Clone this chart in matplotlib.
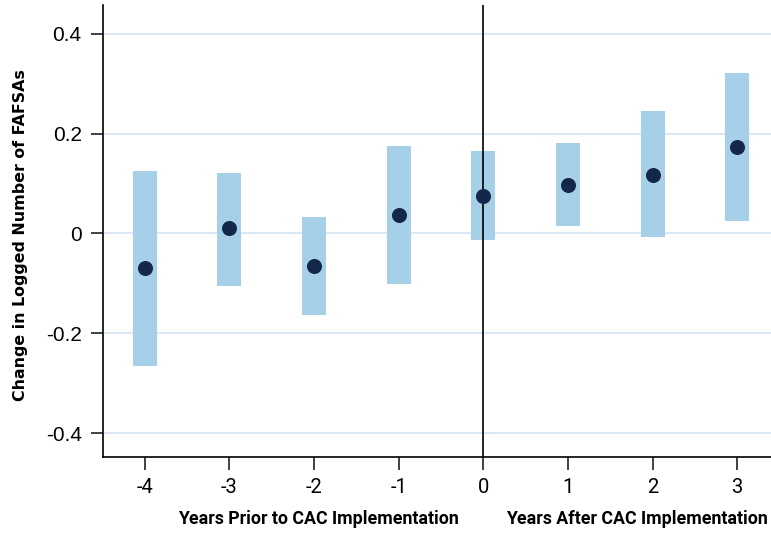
import matplotlib
matplotlib.use("Agg")
import matplotlib.pyplot as plt

# Event-study estimates: years relative to CAC implementation
years = [-4, -3, -2, -1, 0, 1, 2, 3]
estimate = [-0.069, 0.011, -0.065, 0.038, 0.076, 0.098, 0.118, 0.174]
ci_low = [-0.266, -0.105, -0.163, -0.101, -0.014, 0.014, -0.008, 0.026]
ci_high = [0.125, 0.122, 0.033, 0.175, 0.165, 0.181, 0.246, 0.322]
y_ticks = [-0.4, -0.2, 0, 0.2, 0.4]
y_tick_labels = ["-0.4", "-0.2", "0", "0.2", "0.4"]

bar_color = "#a6cfe8"
dot_color = "#13274a"
grid_color = "#d6e6f3"

fig = plt.figure(figsize=(7.71, 5.36), dpi=100)
ax = fig.add_axes([0.133, 0.1474, 0.867, 0.8433])

ax.set_xlim(-4.5, 3.4)
ax.set_ylim(-0.448, 0.458)

for y in y_ticks:
    ax.axhline(y, color=grid_color, lw=1.3, zorder=0)

ax.bar(years, [h - l for h, l in zip(ci_high, ci_low)], bottom=ci_low,
       width=0.284, color=bar_color, zorder=2)
ax.axvline(0, color="black", lw=1.2, zorder=3)
ax.plot(years, estimate, "o", color=dot_color, markersize=9.8, zorder=4)

ax.set_yticks(y_ticks)
ax.set_yticklabels(y_tick_labels, family="Liberation Sans", fontsize=15)
ax.set_xticks(years)
ax.set_xticklabels([str(v) for v in years], family="Roboto", fontsize=14.5)
ax.tick_params(axis="both", length=9, width=1.3, color="#333333", pad=6)

for side in ("top", "right"):
    ax.spines[side].set_visible(False)
for side in ("left", "bottom"):
    ax.spines[side].set_linewidth(1.2)

ax.set_ylabel("Change in Logged Number of FAFSAs", family="DejaVu Sans",
              fontweight="bold", fontsize=11.4, va="center")
ax.yaxis.set_label_coords(-0.122, 0.49)

fig.text(318 / 771, 1 - 519 / 536, "Years Prior to CAC Implementation",
         ha="center", va="center", family="Roboto", fontweight="bold",
         fontsize=12.8)
fig.text(637 / 771, 1 - 519 / 536, "Years After CAC Implementation",
         ha="center", va="center", family="Roboto", fontweight="bold",
         fontsize=12.8)

fig.savefig("out.png", dpi=100)
